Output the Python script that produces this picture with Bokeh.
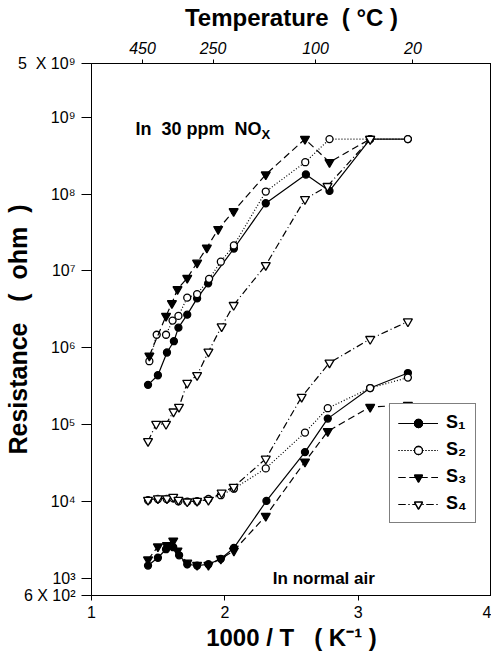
from bokeh.plotting import figure
from bokeh.models import Range1d, FixedTicker, LinearAxis, Label, Legend, LegendItem
from bokeh.embed import file_html
from bokeh.resources import INLINE

# ---------------- data (1000/T in K^-1, resistance in ohm) ----------------
x_s1_nox = [1.424, 1.498, 1.566, 1.618, 1.652, 1.718, 1.792, 1.875, 2.068, 2.307, 2.608, 2.785, 3.090, 3.373]
r_s1_nox = [3.3e5, 4.4e5, 8.7e5, 1.22e6, 1.83e6, 2.7e6, 4.4e6, 6.9e6, 1.96e7, 7.6e7, 1.8e8, 1.1e8, 5.2e8, 5.2e8]

x_s2_nox = [1.434, 1.489, 1.559, 1.608, 1.652, 1.718, 1.792, 1.882, 1.970, 2.068, 2.307, 2.603, 2.785, 3.090, 3.373]
r_s2_nox = [6.7e5, 1.48e6, 1.48e6, 2.26e6, 2.6e6, 4.5e6, 5.0e6, 7.9e6, 1.32e7, 2.15e7, 1.08e8, 2.6e8, 5.2e8, 5.2e8, 5.2e8]

x_s3_nox = [1.434, 1.559, 1.603, 1.645, 1.718, 1.792, 1.865, 1.950, 2.066, 2.307, 2.601, 2.785, 3.090]
r_s3_nox = [7.9e5, 2.6e6, 3.8e6, 5.8e6, 8.1e6, 1.28e7, 2.0e7, 3.5e7, 6.0e7, 1.8e8, 5.2e8, 2.6e8, 5.2e8]

x_s4_nox = [1.424, 1.485, 1.559, 1.615, 1.656, 1.718, 1.792, 1.877, 1.976, 2.066, 2.307, 2.601, 2.770, 3.090]
r_s4_nox = [6.1e4, 1.02e5, 1.02e5, 1.48e5, 1.7e5, 3.5e5, 4.4e5, 8.9e5, 1.9e6, 3.6e6, 1.19e7, 8.6e7, 1.27e8, 5.2e8]

x_s1_air = [1.424, 1.498, 1.559, 1.613, 1.657, 1.718, 1.792, 1.877, 1.970, 2.068, 2.312, 2.601, 2.772, 3.090, 3.373]
r_s1_air = [1.47e3, 1.86e3, 2.4e3, 2.55e3, 2.0e3, 1.53e3, 1.47e3, 1.53e3, 1.8e3, 2.5e3, 1.02e4, 4.4e4, 1.2e5, 3.0e5, 4.7e5]

x_s2_air = [1.424, 1.498, 1.564, 1.613, 1.652, 1.718, 1.792, 1.877, 1.970, 2.068, 2.307, 2.601, 2.772, 3.090, 3.373]
r_s2_air = [1.04e4, 1.08e4, 1.08e4, 1.1e4, 1.01e4, 1.0e4, 1.01e4, 1.08e4, 1.21e4, 1.47e4, 2.7e4, 7.9e4, 1.64e5, 3.0e5, 4.1e5]

x_s3_air = [1.424, 1.498, 1.566, 1.613, 1.645, 1.718, 1.792, 1.877, 1.970, 2.068, 2.307, 2.601, 2.772, 3.090, 3.373]
r_s3_air = [1.76e3, 2.6e3, 2.7e3, 3.1e3, 2.3e3, 1.6e3, 1.5e3, 1.5e3, 1.8e3, 2.3e3, 6.5e3, 3.3e4, 8.2e4, 1.7e5, 1.8e5]

x_s4_air = [1.424, 1.498, 1.566, 1.613, 1.652, 1.718, 1.792, 1.877, 1.976, 2.066, 2.307, 2.576, 2.785, 3.090, 3.373]
r_s4_air = [1.05e4, 1.1e4, 1.1e4, 1.15e4, 1.05e4, 1.0e4, 1.02e4, 1.05e4, 1.3e4, 1.55e4, 3.6e4, 2.3e5, 6.4e5, 1.3e6, 2.2e6]

series_names = ["S\u2081", "S\u2082", "S\u2083", "S\u2084"]

x_ticks = [1, 2, 3, 4]
y_ticks = [6e2, 1e3, 1e4, 1e5, 1e6, 1e7, 1e8, 1e9, 5e9]
y_tick_labels = ["6 X 10\u00b2", "10\u00b3", "10\u2074", "10\u2075", "10\u2076",
                 "10\u2077", "10\u2078", "10\u2079", "5\u00a0 X 10\u2079"]
temps_c = [450, 250, 100, 20]
temp_pos = [1000.0 / (t + 273.15) for t in temps_c]

FONT = "Liberation Sans"
NB = "\u00a0"

p = figure(frame_width=400, frame_height=532, y_axis_type="log",
           x_range=Range1d(1, 4), y_range=Range1d(6e2, 5e9),
           output_backend="svg", toolbar_location=None,
           min_border_left=81, min_border_right=0,
           min_border_top=62, min_border_bottom=50)
p.grid.visible = False
p.outline_line_color = "black"
p.outline_line_width = 1


def style_axis(ax, label_size, title_size):
    ax.axis_label_text_font = FONT
    ax.axis_label_text_font_style = "bold"
    ax.axis_label_text_font_size = title_size
    ax.axis_label_text_color = "black"
    ax.major_label_text_font = FONT
    ax.major_label_text_font_size = label_size
    ax.major_label_text_color = "black"
    ax.axis_line_color = "black"
    ax.major_tick_line_color = "black"
    ax.minor_tick_line_color = None


# bottom axis
xa = p.xaxis[0]
xa.ticker = FixedTicker(ticks=x_ticks)
xa.axis_label = "1000 / T" + NB * 3 + "(" + NB + "K\u207b\u00b9" + NB + ")"
style_axis(xa, "16px", "24px")
xa.axis_label_standoff = 3
xa.major_tick_out = 5
xa.major_tick_in = 0
xa.major_label_standoff = 5

# left axis
ya = p.yaxis[0]
ya.ticker = FixedTicker(ticks=y_ticks)
ya.major_label_overrides = {t: l for t, l in zip(y_ticks, y_tick_labels)}
ya.axis_label = "Resistance" + NB * 3 + "(" + NB * 2 + "ohm" + NB * 2 + ")"
style_axis(ya, "16px", "25px")
ya.axis_label_standoff = -17
ya.major_tick_out = 10
ya.major_tick_in = 0
ya.major_label_standoff = 6

# top axis (temperature)
top = LinearAxis(ticker=FixedTicker(ticks=temp_pos),
                 major_label_overrides={pos: str(t) for pos, t in zip(temp_pos, temps_c)},
                 axis_label="Temperature" + NB * 2 + "(" + NB + "\u00b0C" + NB + ")")
style_axis(top, "16px", "24px")
top.major_label_text_font_style = "italic"
top.axis_label_standoff = 8
top.major_tick_out = 4
top.major_tick_in = 0
top.major_label_standoff = 6
p.add_layout(top, "above")

styles = [
    dict(dash="solid", marker="circle", size=7, fill="black"),
    dict(dash="1 2", marker="circle", size=7, fill="white"),
    dict(dash="7 4", marker="inverted_triangle", size=9, fill="black"),
    dict(dash="7 3 1 3", marker="inverted_triangle", size=9, fill="white"),
]
data = [
    (x_s1_nox, r_s1_nox, x_s1_air, r_s1_air),
    (x_s2_nox, r_s2_nox, x_s2_air, r_s2_air),
    (x_s3_nox, r_s3_nox, x_s3_air, r_s3_air),
    (x_s4_nox, r_s4_nox, x_s4_air, r_s4_air),
]

items = []
for name, st, (xn, rn, xa_, ra_) in zip(series_names, styles, data):
    rends = []
    for xs, rs in ((xn, rn), (xa_, ra_)):
        ln = p.line(xs, rs, line_color="black", line_width=1.2, line_dash=st["dash"])
        sc = p.scatter(xs, rs, marker=st["marker"], size=st["size"],
                       fill_color=st["fill"], line_color="black", line_width=1.3)
        rends += [ln, sc]
    items.append(LegendItem(label=name, renderers=rends))

legend = Legend(items=items, location=(298, 72))
legend.label_text_font = FONT
legend.label_text_font_style = "bold"
legend.label_text_font_size = "18px"
legend.label_text_color = "black"
legend.glyph_width = 40
legend.glyph_height = 20
legend.label_height = 20
legend.label_standoff = 8
legend.spacing = 6
legend.padding = 8
legend.margin = 0
legend.border_line_color = "black"
legend.border_line_width = 1
legend.background_fill_color = "white"
legend.background_fill_alpha = 1
p.add_layout(legend, "center")

# annotations
nox_text = Label(x=1.33, y=7e8, text="In" + NB * 2 + "30 ppm" + NB * 2 + "NO", text_font=FONT,
                 text_font_style="bold", text_font_size="18px", text_baseline="middle",
                 text_color="black")
nox_sub = Label(x=1.33, y=7e8, text="X", x_offset=126, y_offset=-5, text_font=FONT,
                text_font_style="bold", text_font_size="13px", text_baseline="middle",
                text_color="black")
air_text = Label(x=2.36, y=1e3, text="In normal air", text_font=FONT,
                 text_font_style="bold", text_font_size="17px", text_baseline="middle",
                 text_color="black")
p.add_layout(nox_text)
p.add_layout(nox_sub)
p.add_layout(air_text)

open("out.html", "w").write(file_html(p, INLINE))
